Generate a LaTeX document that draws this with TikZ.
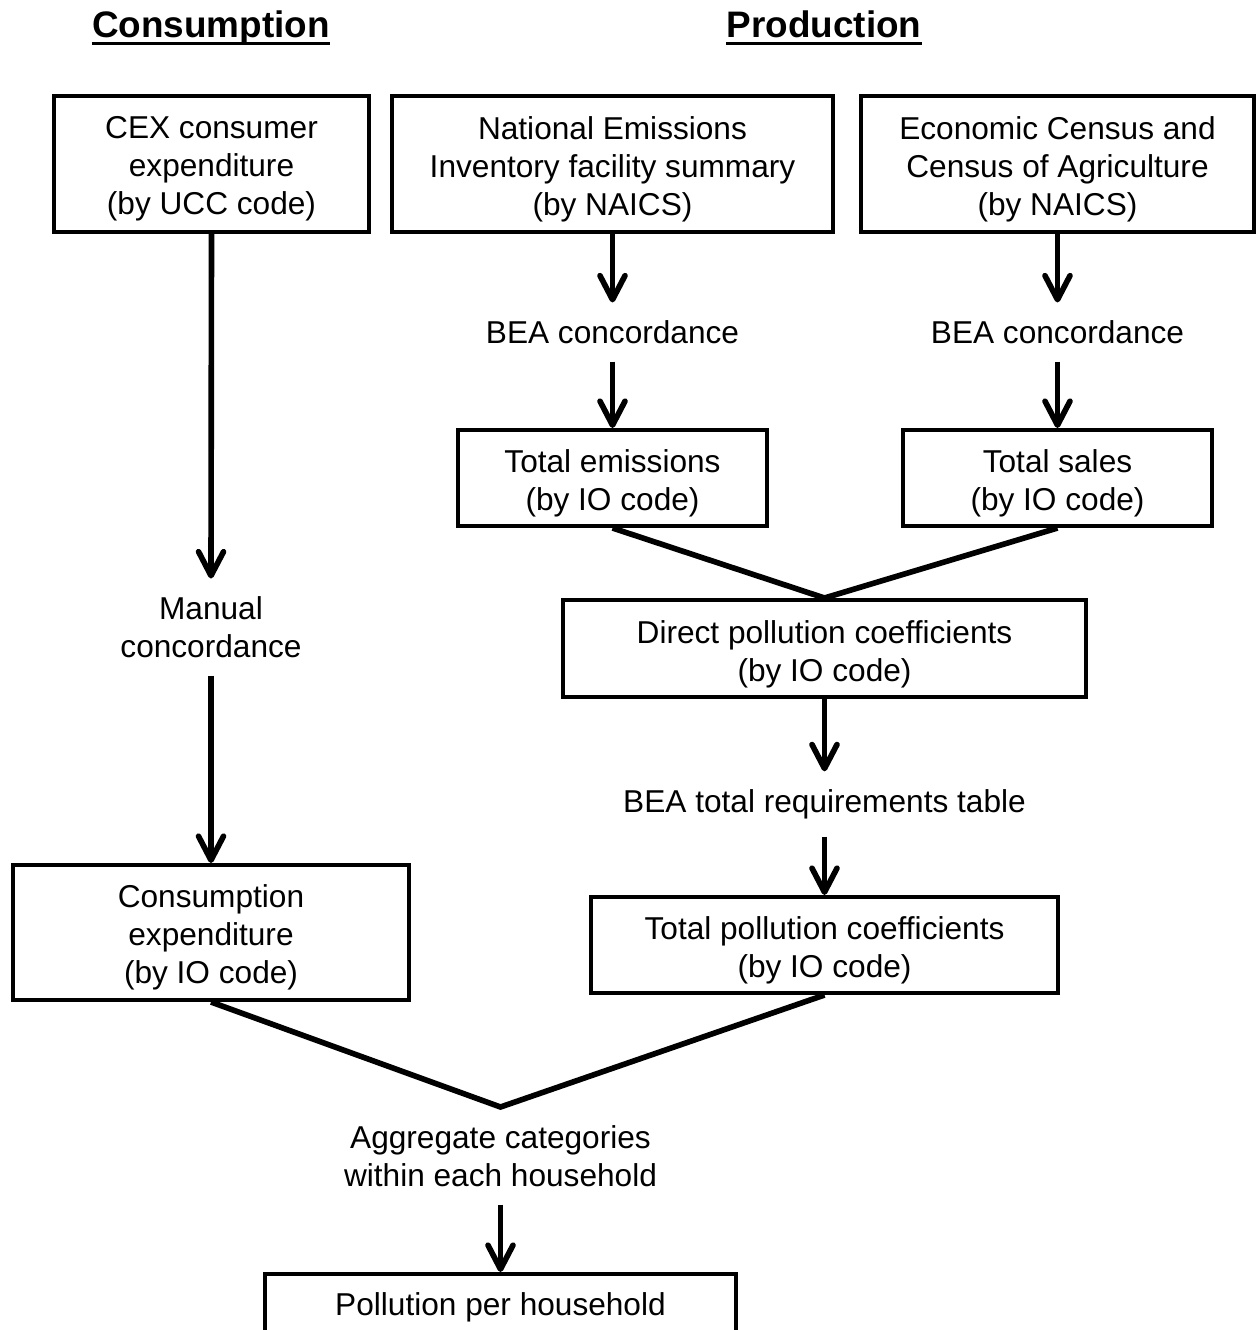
\documentclass[tikz,border=0pt]{standalone}
\usepackage{fontspec}
\setmainfont{Liberation Sans}
\usetikzlibrary{arrows.meta}
\begin{document}
\begin{tikzpicture}[x=0.02cm,y=-0.02cm,
  box/.style={draw, line width=2.3pt, inner sep=0pt},
  btxt/.style={align=center, inner sep=0pt, yshift=-2.8pt, font=\fontsize{18}{21.6}\selectfont},
  lbl/.style={align=center, inner xsep=0pt, inner ysep=10pt, font=\fontsize{18}{21.6}\selectfont},
  con/.style={line width=3.2pt},
  arr/.style={con, -{Straight Barb[length=0.48cm,width=0.5cm,round]}},
  ttl/.style={anchor=base, inner sep=0pt, font=\fontsize{21}{25}\selectfont\bfseries},
  uline/.style={line width=1.8pt}]
\useasboundingbox (0,0) rectangle (1256,1330);

% titles
\node[ttl] (tcons) at (211,37) {Consumption};
\node[ttl] (tprod) at (824,37) {Production};
\draw[uline] ([yshift=-3.8pt]tcons.base west) -- ([yshift=-3.8pt]tcons.base east);
\draw[uline] ([yshift=-3.8pt]tprod.base west) -- ([yshift=-3.8pt]tprod.base east);

% boxes
\node[box, minimum width=6.3cm, minimum height=2.72cm,
  label={[btxt]center:{CEX consumer\\expenditure\\(by UCC code)}}] (cex) at (211.5,164) {};
\node[box, minimum width=8.82cm, minimum height=2.72cm,
  label={[btxt]center:{National Emissions\\Inventory facility summary\\(by NAICS)}}] (nei) at (612.5,164) {};
\node[box, minimum width=7.88cm, minimum height=2.72cm,
  label={[btxt]center:{Economic Census and\\Census of Agriculture\\(by NAICS)}}] (econ) at (1057.5,164) {};
\node[box, minimum width=6.18cm, minimum height=1.92cm,
  label={[btxt]center:{Total emissions\\(by IO code)}}] (totem) at (612.5,478) {};
\node[box, minimum width=6.2cm, minimum height=1.92cm,
  label={[btxt]center:{Total sales\\(by IO code)}}] (totsal) at (1057.5,478) {};
\node[box, minimum width=10.48cm, minimum height=1.94cm,
  label={[btxt, yshift=-0.6pt]center:{Direct pollution coefficients\\(by IO code)}}] (direct) at (824.5,648.5) {};
\node[box, minimum width=9.36cm, minimum height=1.92cm,
  label={[btxt]center:{Total pollution coefficients\\(by IO code)}}] (totpol) at (824.5,945) {};
\node[box, minimum width=7.94cm, minimum height=2.7cm,
  label={[btxt]center:{Consumption\\expenditure\\(by IO code)}}] (cexp) at (211,932.5) {};
\node[box, minimum width=9.42cm, minimum height=1.28cm,
  label={[btxt, yshift=1.8pt]center:{Pollution per household}}] (pph) at (500.5,1306) {};

% free labels
\node[lbl] (manual) at (211,627) {Manual\\concordance};
\node[lbl] (bea1) at (612.5,332) {BEA concordance};
\node[lbl] (bea2) at (1057.5,332) {BEA concordance};
\node[lbl] (beatr) at (824.5,804) {BEA total requirements table};
\node[lbl] (agg) at (500.5,1156) {Aggregate categories\\within each household};

\coordinate (join) at (500.5,1107);

% connectors
\draw[arr] (cex.south) -- (manual.north);
\draw[arr] (manual.south) -- (cexp.north);
\draw[arr] (nei.south) -- (bea1.north);
\draw[arr] (bea1.south) -- (totem.north);
\draw[arr] (econ.south) -- (bea2.north);
\draw[arr] (bea2.south) -- (totsal.north);
\draw[con] (totem.south) -- (direct.north) -- (totsal.south);
\draw[arr] (direct.south) -- (beatr.north);
\draw[arr] (beatr.south) -- (totpol.north);
\draw[con] (cexp.south) -- (join) -- (totpol.south);
\draw[arr] (agg.south) -- (pph.north);
\end{tikzpicture}
\end{document}
